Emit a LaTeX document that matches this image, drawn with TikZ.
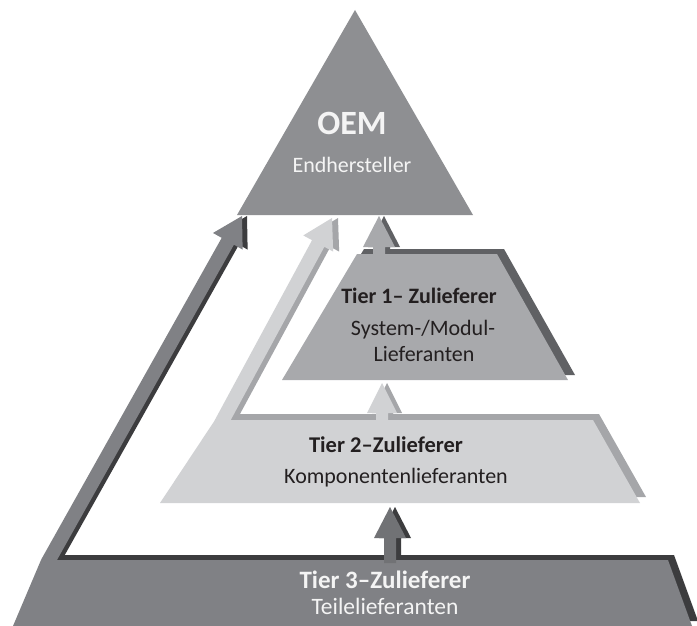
\documentclass[tikz,border=0pt]{standalone}
\usepackage{fontspec}
\setmainfont{Carlito}
\definecolor{oemc}{HTML}{8E8F92}
\definecolor{tone}{HTML}{A8A9AC}
\definecolor{toneS}{HTML}{606164}
\definecolor{ttwo}{HTML}{D1D2D4}
\definecolor{ttwoS}{HTML}{A5A6A9}
\definecolor{tthree}{HTML}{808185}
\definecolor{tthreeA}{HTML}{717275}
\definecolor{tthreeS}{HTML}{3C3C3E}
\definecolor{txtdark}{HTML}{231F20}
\definecolor{txtlight}{HTML}{F4F4F4}
% arrow outline: tip at origin, pointing up (y grows downward)
\newcommand{\arrowshape}[4]{(0,0) -- (#1,#2) -- (#3,#2) -- (#3,#4) -- (-#3,#4) -- (-#3,#2) -- (-#1,#2) -- cycle}
\tikzset{
  lbl/.style={inner sep=0pt, anchor=base},
  darktxt/.style={lbl, text=txtdark},
  lighttxt/.style={lbl, text=txtlight},
}
\begin{document}
\begin{tikzpicture}[x=1pt, y=-1pt]
\useasboundingbox (0,0) rectangle (697,626);

% ---------- Tier 3 (dark) ----------
\fill[tthreeS, shift={(6,-5)}] (41,560) -- (668,560) -- (692,626) -- (13,626) -- cycle;
\fill[tthreeS, shift={(247,216)}, rotate=-29.3] \arrowshape{17}{29}{7}{398};
\fill[tthreeS, shift={(395,507)}] \arrowshape{16}{31}{6}{58};
\fill[tthree] (41,560) -- (668,560) -- (692,626) -- (13,626) -- cycle;
\fill[tthree, shift={(242,216)}, rotate=-29.3] \arrowshape{17}{29}{7}{398};
\fill[tthreeA, shift={(390,507)}] \arrowshape{16}{31}{6}{56};

% ---------- Tier 2 (light) ----------
\fill[ttwoS, shift={(6,-6)}] (215,420) -- (593,420) -- (640,503) -- (160,503) -- cycle;
\fill[ttwoS, shift={(338,218)}, rotate=-28.4] \arrowshape{17}{29}{7}{234};
\fill[ttwoS, shift={(387,383)}] \arrowshape{15}{30}{6}{40};
\fill[ttwo] (215,420) -- (593,420) -- (640,503) -- (160,503) -- cycle;
\fill[ttwo, shift={(332,218)}, rotate=-28.4] \arrowshape{17}{29}{7}{234};
\fill[ttwo, shift={(382,383)}] \arrowshape{15}{30}{6}{40};

% ---------- Tier 1 (medium) ----------
\fill[toneS, shift={(7,-5)}] (357,254) -- (497,254) -- (568,380) -- (282,380) -- cycle;
\fill[toneS, shift={(384,216)}] \arrowshape{16}{31}{6}{44};
\fill[tone] (357,254) -- (497,254) -- (568,380) -- (282,380) -- cycle;
\fill[tone, shift={(379,216)}] \arrowshape{16}{31}{6}{44};

% ---------- OEM ----------
\fill[oemc] (355,10) -- (473,215) -- (237,215) -- cycle;

% ---------- Labels ----------
\node[lighttxt, font=\fontsize{34}{36}\selectfont\bfseries] (oem) at (352,135) {OEM};
\node[lighttxt, font=\fontsize{22}{24}\selectfont] (oemsub) at (352,172) {Endhersteller};

\node[darktxt, font=\fontsize{22}{24}\selectfont\bfseries] (t1) at (419,303) {Tier 1– Zulieferer};
\node[darktxt, font=\fontsize{22}{24}\selectfont] (t1a) at (423,335) {System-/Modul-};
\node[darktxt, font=\fontsize{22}{24}\selectfont] (t1b) at (424,361) {Lieferanten};

\node[darktxt, font=\fontsize{22.5}{24}\selectfont\bfseries] (t2) at (386,452) {Tier 2–Zulieferer};
\node[darktxt, font=\fontsize{22}{24}\selectfont] (t2a) at (396,483) {Komponentenlieferanten};

\node[lighttxt, font=\fontsize{25}{27}\selectfont\bfseries] (t3) at (385,588) {Tier 3–Zulieferer};
\node[lighttxt, font=\fontsize{23.5}{25}\selectfont] (t3a) at (385,614) {Teilelieferanten};
\end{tikzpicture}
\end{document}
